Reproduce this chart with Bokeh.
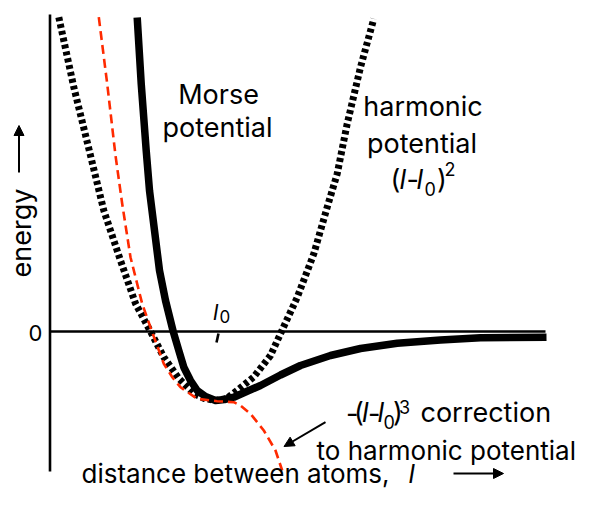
from bokeh.plotting import figure
from bokeh.models import Range1d, Label, Arrow, NormalHead
from bokeh.embed import file_html
from bokeh.resources import INLINE
import math

# ---- data (distance in px-like units, energy above zero) ----
morse_d = [136.7, 140.7, 145.7, 149.0, 154.0, 159.0, 165.0, 172.7, 178.3, 183.3,
           190.0, 196.7, 205.0, 215.0, 224.0, 233.3, 245.0, 260.0, 280.0, 300.0,
           330.0, 360.0, 396.7, 440.0, 480.0, 546.0]
morse_e = [314.0, 248.0, 181.0, 141.0, 101.0, 61.0, 31.0, 0.0, -19.0, -35.7,
           -49.0, -59.0, -65.0, -69.0, -68.0, -65.7, -60.5, -54.0, -43.5, -34.0,
           -24.0, -17.0, -11.7, -8.5, -6.3, -5.7]

harm_d = [58.3, 73.3, 90.0, 103.3, 120.0, 135.0, 150.0, 163.3, 178.3, 193.3,
          204.0, 215.0, 226.0, 236.7, 253.0, 270.0, 281.0, 296.7, 313.3, 326.7,
          336.7, 346.7, 360.0, 373.3]
harm_e = [314.3, 244.3, 176.0, 121.0, 71.0, 28.0, 0.0, -25.7, -47.0, -62.0,
          -67.0, -69.0, -67.0, -59.0, -45.7, -24.0, 0.0, 34.0, 77.7, 124.3,
          157.7, 207.7, 264.3, 312.7]

cubic_d = [98.3, 106.7, 115.0, 121.7, 130.0, 141.7, 151.7, 163.3, 172.0, 180.0,
           196.7, 216.7, 233.3, 240.0, 250.0, 263.3, 275.0, 281.7]
cubic_e = [314.3, 247.7, 176.0, 127.7, 74.3, 27.7, -0.7, -32.3, -46.0, -55.7,
           -67.3, -69.7, -70.7, -74.0, -82.3, -99.0, -119.0, -139.0]

axis_d = [49.5, 545.0]
axis_e = [317.0, -140.0]
l0 = 217.0

FONT = "Inter"
FS = "27px"
TOP = 331.0  # screen row of the zero line

p = figure(width=576, height=490, x_range=Range1d(0, 576), y_range=Range1d(-159, 331),
           min_border=0, output_backend="svg", toolbar_location=None,
           x_axis_location=None, y_axis_location=None)
p.grid.visible = False
p.outline_line_color = None
p.background_fill_color = "white"
p.border_fill_color = "white"

# axes
p.line([axis_d[0], axis_d[0]], [axis_e[0], axis_e[1]], line_color="black", line_width=2.6)
p.line([axis_d[0], axis_d[1]], [0, 0], line_color="black", line_width=2.6)
p.line([l0 + 1, l0 - 1], [-2, -11], line_color="black", line_width=2.6)

# curves
p.line(harm_d, harm_e, line_color="black", line_width=7, line_dash="4 3")
p.line(morse_d, morse_e, line_color="black", line_width=7.5, line_join="round")
p.line(cubic_d, cubic_e, line_color="#ff2a00", line_width=2.6, line_dash="9 5")


def lab(x, base, t, size=27, style="normal", align="left"):
    off = 9.5 if size >= 22 else 7.0
    p.add_layout(Label(x=x, y=TOP - base + off, text=t, text_font=FONT,
                       text_font_size=f"{size}px", text_font_style=style,
                       text_align=align, text_baseline="alphabetic", text_color="black"))


lab(218, 103, "Morse", align="center")
lab(217, 136, "potential", align="center")
lab(422.5, 115, "harmonic", align="center")
lab(421.5, 152, "potential", align="center")
# (l-l0)^2
lab(390.0, 188, "(")
lab(399.0, 188, "l", style="italic")
lab(406.0, 188, "-")
lab(416.0, 188, "l", style="italic")
lab(424.0, 195, "0", size=18)
lab(436.5, 188, ")")
lab(444.0, 175, "2", size=18)

# -(l-l0)^3 correction
lab(345.5, 421.7, "-")
lab(353.5, 421.7, "(")
lab(361.5, 421.7, "l", style="italic")
lab(367.5, 421.7, "-")
lab(377.0, 421.7, "l", style="italic")
lab(383.0, 428.0, "0", size=18)
lab(392.5, 421.7, ")")
lab(398.5, 413.0, "3", size=18)
lab(420.0, 421.7, "correction")
lab(316.0, 459.0, "to harmonic potential", size=26)

lab(35, 342, "0", size=22, align="center")
lab(212.5, 320.7, "l", size=22, style="italic")
lab(219.0, 322.7, "0", size=17)

lab(81, 482, "distance between atoms, ", size=26)
lab(408, 482, "l", size=26, style="italic")
p.add_layout(Label(x=21, y=TOP - 277, text="energy", text_font=FONT, text_font_size=FS,
                   text_align="left", text_baseline="alphabetic", text_color="black",
                   angle=math.pi / 2))

# arrows
p.add_layout(Arrow(end=NormalHead(size=10, fill_color="black", line_color="black"),
                   x_start=18.5, y_start=TOP - 172, x_end=18.5, y_end=TOP - 125, line_width=2))
p.add_layout(Arrow(end=NormalHead(size=10, fill_color="black", line_color="black"),
                   x_start=453, y_start=TOP - 473, x_end=503, y_end=TOP - 473, line_width=2))
p.add_layout(Arrow(end=NormalHead(size=10, fill_color="black", line_color="black"),
                   x_start=325, y_start=TOP - 421.7, x_end=283.5, y_end=TOP - 446, line_width=2))

open("out.html", "w").write(file_html(p, INLINE))
